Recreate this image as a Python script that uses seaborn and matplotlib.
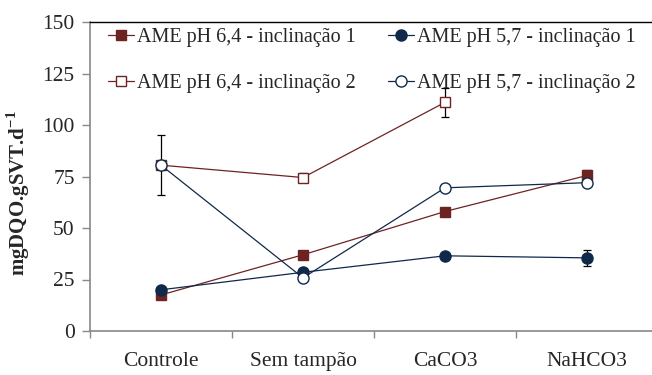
import numpy as np
import pandas as pd
import matplotlib
matplotlib.use("Agg")
import matplotlib.pyplot as plt
import seaborn as sns

categories = ["Controle", "Sem tampão", "CaCO3", "NaHCO3"]
labels = ["AME pH 6,4 - inclinação 1", "AME pH 5,7 - inclinação 1",
          "AME pH 6,4 - inclinação 2", "AME pH 5,7 - inclinação 2"]
s1 = [17.5, 37.0, 58.0, 75.5]
s1_err = [0, 0, 0, 2.5]
s2 = [20.0, 28.5, 36.5, 35.5]
s2_err = [0, 0, 0, 4.0]
s3 = [80.5, 74.5, 111.0]
s3_err = [0, 2.0, 7.0]
s4 = [80.5, 25.8, 69.5, 72.0]
s4_err = [14.5, 0, 0, 0]

red = "#6E2323"
navy = "#10294A"

sns.set_theme(style="white")
plt.rcParams["font.family"] = ["Liberation Serif", "DejaVu Serif"]
plt.rcParams["mathtext.fontset"] = "custom"
plt.rcParams["mathtext.rm"] = "Liberation Serif"
plt.rcParams["mathtext.bf"] = "Liberation Serif:bold"

fig = plt.figure(figsize=(6.52, 3.75), dpi=100)
ax = fig.add_axes([90 / 652, 44 / 375, 568 / 652, 309 / 375])

series = [
    (s1, s1_err, labels[0], "s", red, red),
    (s2, s2_err, labels[1], "o", navy, navy),
    (s3, s3_err, labels[2], "s", red, "white"),
    (s4, s4_err, labels[3], "o", navy, "white"),
]
for vals, errs, lab, mk, col, face in series:
    x = np.arange(len(vals))
    df = pd.DataFrame({"x": x, "y": vals})
    ax.errorbar(x, vals, yerr=errs, fmt="none", ecolor="black",
                elinewidth=0.9, capsize=3, capthick=0.9, zorder=2)
    sns.lineplot(data=df, x="x", y="y", ax=ax, color=col, marker=mk,
                 markersize=8 if mk == "o" else 7.5, markerfacecolor=face,
                 markeredgecolor=col, markeredgewidth=1.0, linewidth=0.9,
                 label=lab, zorder=3)
h, l = ax.get_legend_handles_labels()
hd = dict(zip(l, h))
order = [labels[0], labels[2], labels[1], labels[3]]
ax.legend([hd[k] for k in order], order, ncol=2, frameon=False,
          loc="upper left", bbox_to_anchor=(102 / 652, 1 - 22 / 375),
          bbox_transform=fig.transFigure, fontsize=14.5, handlelength=1.3,
          handletextpad=0.15, labelspacing=1.35, columnspacing=1.6,
          borderaxespad=0, borderpad=0.3)

ax.set_xlim(-0.5, 3.5)
ax.set_ylim(0, 150)
ax.set_xticks(np.arange(len(categories)))
ax.set_xticklabels(categories, fontsize=15.5)
ax.set_xticks([-0.5, 0.5, 1.5, 2.5], minor=True)
ax.tick_params(axis="x", which="major", length=0, pad=15)
ax.tick_params(axis="x", which="minor", length=5, width=1, color="#888888",
               direction="out", bottom=True)
ax.set_yticks(np.arange(0, 151, 25))
ax.tick_params(axis="y", length=6, width=1, color="#888888", direction="out",
               left=True, labelsize=15.5, pad=5)
ax.set_xlabel("")
ax.set_ylabel(r"mgDQO.gSVT.d$^{\mathbf{-1}}$", fontsize=15, fontweight="bold")
ax.yaxis.set_label_coords(-0.102, 0.445)

for side in ["left", "bottom"]:
    ax.spines[side].set_color("#888888")
    ax.spines[side].set_linewidth(1.2)
ax.spines["top"].set_color("black")
ax.spines["top"].set_linewidth(1.0)
ax.spines["right"].set_visible(False)

fig.savefig("out.png", dpi=100)
